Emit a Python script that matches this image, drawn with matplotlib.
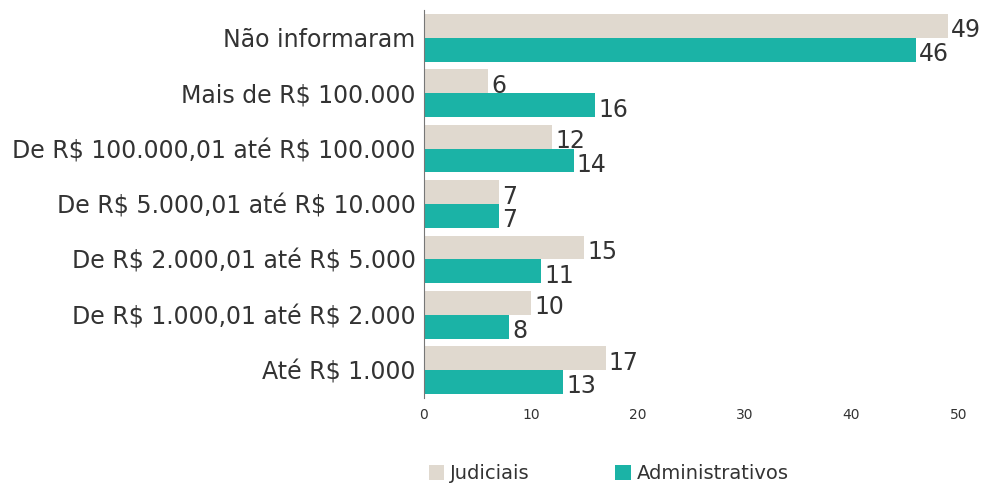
import matplotlib.pyplot as plt
import numpy as np

plt.rcParams['font.family'] = ['DejaVu Sans']
plt.rcParams['text.parse_math'] = False

categorias = ["Não informaram", "Mais de R$ 100.000", "De R$ 100.000,01 até R$ 100.000",
              "De R$ 5.000,01 até R$ 10.000", "De R$ 2.000,01 até R$ 5.000",
              "De R$ 1.000,01 até R$ 2.000", "Até R$ 1.000"]
judiciais = [49, 6, 12, 7, 15, 10, 17]
administrativos = [46, 16, 14, 7, 11, 8, 13]

cor_jud = '#E0D9CF'
cor_adm = '#1BB3A6'
texto = '#333333'

fig = plt.figure(figsize=(9.88, 4.84), dpi=100)
ax = fig.add_axes([0.429, 0.178, 0.541, 0.801])

y = np.arange(len(categorias))
h = 0.43
b1 = ax.barh(y - h/2, judiciais, height=h, color=cor_jud, label='Judiciais')
b2 = ax.barh(y + h/2, administrativos, height=h, color=cor_adm, label='Administrativos')

# rótulos com o valor no fim de cada barra
for barras, vals in [(b1, judiciais), (b2, administrativos)]:
    for b, v in zip(barras, vals):
        ax.text(v + 0.3, b.get_y() + b.get_height()/2 + 0.08, str(v),
                va='center', ha='left', fontsize=17, color=texto)

ax.set_ylim(len(categorias) - 0.5, -0.5)
ax.set_xlim(0, 50)
ax.set_yticks(y)
ax.set_yticklabels(categorias, fontsize=17, color=texto)
ax.set_xticks([0, 10, 20, 30, 40, 50])
ax.tick_params(axis='x', length=0, labelsize=10, labelcolor=texto, pad=7)
ax.tick_params(axis='y', length=0, pad=6)
for s in ['top', 'right', 'bottom']:
    ax.spines[s].set_visible(False)
ax.spines['left'].set_color('#777777')

fig.legend(handles=[b1, b2], loc='lower left', bbox_to_anchor=(0.416, -0.035), ncol=2,
           frameon=False, fontsize=14, handlelength=0.8, handleheight=0.8,
           handletextpad=0.3, columnspacing=4.4, labelcolor=texto)

fig.savefig('out.png', dpi=100)
